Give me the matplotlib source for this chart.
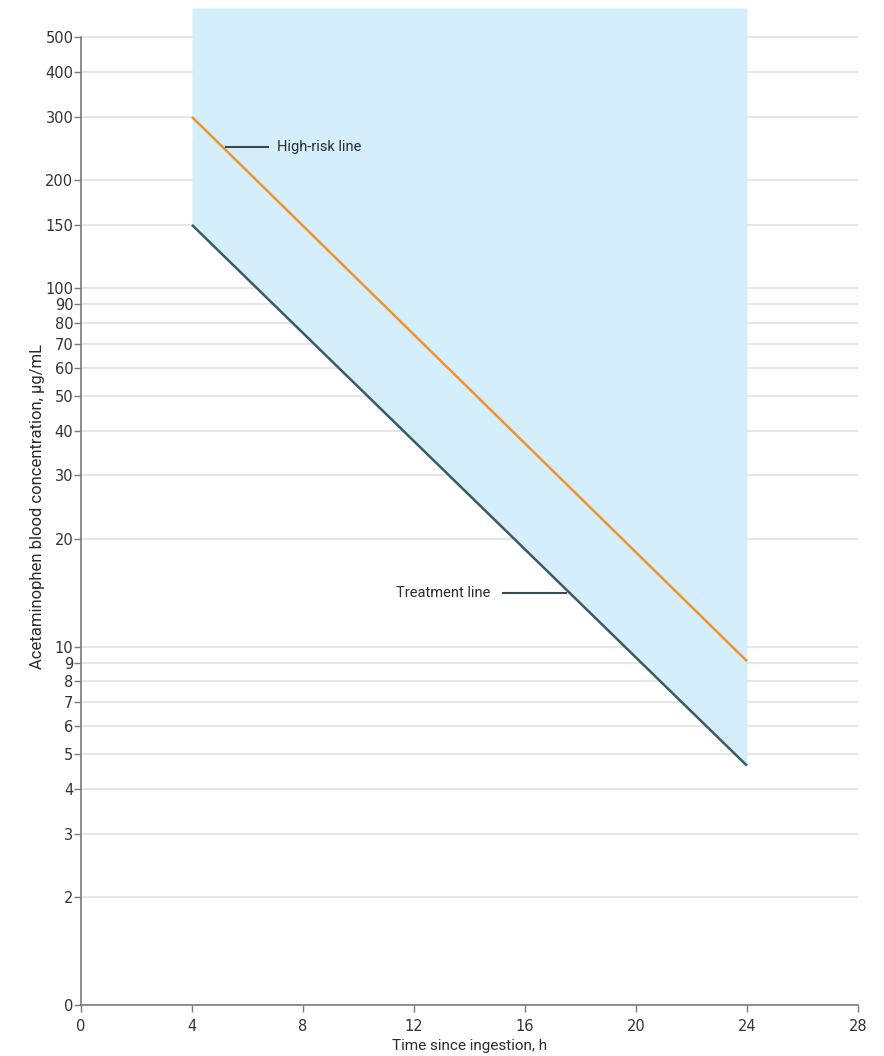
import matplotlib.pyplot as plt
from matplotlib.ticker import FixedLocator, FixedFormatter, NullLocator

# nomogram data (hours since ingestion, concentration in ug/mL)
hours = [4, 24]
treatment_line = [150, 4.65]
high_risk_line = [300, 9.1]

y_ticks = [1, 2, 3, 4, 5, 6, 7, 8, 9, 10, 20, 30, 40, 50, 60, 70, 80, 90,
           100, 150, 200, 300, 400, 500]
y_tick_labels = ['0', '2', '3', '4', '5', '6', '7', '8', '9', '10', '20', '30',
                 '40', '50', '60', '70', '80', '90', '100', '150', '200', '300',
                 '400', '500']
x_ticks = [0, 4, 8, 12, 16, 20, 24, 28]

narrow = ['Roboto', 'DejaVu Sans']
text_color = '#333333'
axis_color = '#7a7a7a'

fig = plt.figure(figsize=(8.84, 10.56), dpi=100)
ax = fig.add_axes([0.0916, 0.0483, 0.879, 0.9441])

ax.set_yscale('log')
ax.set_xlim(0, 28)
ax.set_ylim(1, 604)

# shaded area above the treatment line
ax.fill_between(hours, treatment_line, [604, 604], color='#d4eefb',
                linewidth=0, zorder=2)

ax.plot(hours, high_risk_line, color='#f0932b', lw=1.8, zorder=3,
        solid_capstyle='butt')
ax.plot(hours, treatment_line, color='#3a5a64', lw=1.8, zorder=3,
        solid_capstyle='butt')

# labels with short leader lines
ax.plot([5.22, 6.74], [247, 247], color='#3a4a52', lw=1.5, zorder=4)
ax.text(7.05, 247, 'High-risk line', family=narrow, fontsize=10.5,
        color='#2b2b2b', va='center', ha='left', zorder=4)
ax.plot([15.2, 17.48], [14.1, 14.1], color='#3a4a52', lw=1.5, zorder=4)
ax.text(14.75, 14.1, 'Treatment line', family=narrow, fontsize=10.5,
        color='#2b2b2b', va='center', ha='right', zorder=4)

# axes styling
ax.yaxis.set_major_locator(FixedLocator(y_ticks))
ax.yaxis.set_major_formatter(FixedFormatter(y_tick_labels))
ax.yaxis.set_minor_locator(NullLocator())
ax.set_xticks(x_ticks)
ax.grid(axis='y', color='#e6e6e6', lw=1.5, zorder=1)
ax.set_axisbelow(True)
for side in ['top', 'right']:
    ax.spines[side].set_visible(False)
for side in ['left', 'bottom']:
    ax.spines[side].set_color(axis_color)
    ax.spines[side].set_linewidth(1.2)
ax.spines['left'].set_bounds(1, 500)
ax.tick_params(axis='both', colors=axis_color, length=5, width=1,
               labelcolor=text_color, labelsize=10.5, pad=0.5)
ax.tick_params(axis='x', pad=5)

ax.set_xlabel('Time since ingestion, h', family=narrow, fontsize=11,
              color='#2b2b2b')
ax.xaxis.set_label_coords(0.5, -0.034)
ax.set_ylabel('Acetaminophen blood concentration, µg/mL', family=narrow,
              fontsize=12, color='#2b2b2b')
ax.yaxis.set_label_coords(-0.046, 0.5)

fig.savefig('out.png', dpi=100)
